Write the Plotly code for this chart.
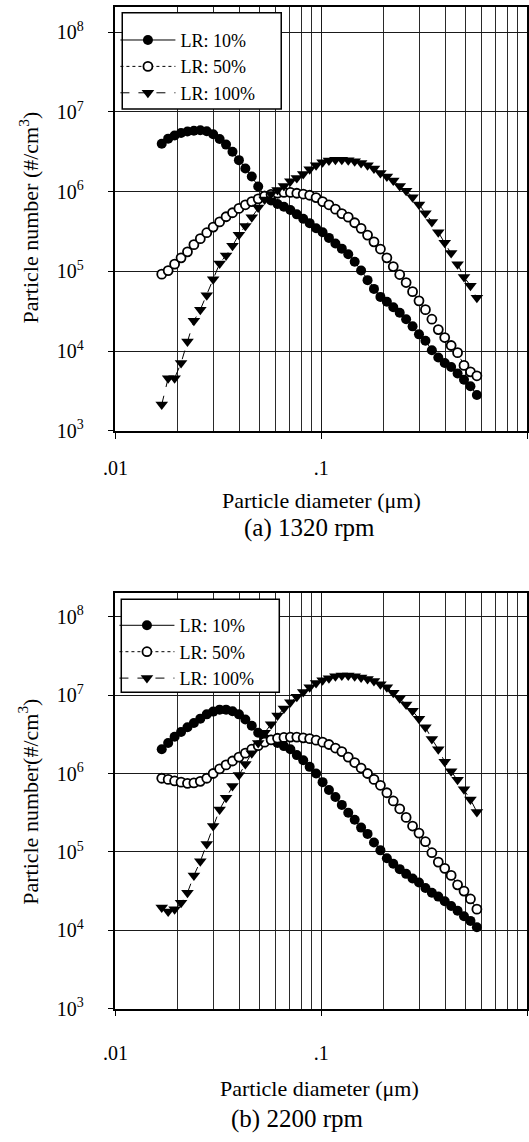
import plotly.graph_objects as go

# Particle diameters (um) of the measurement channels
diameter = [0.01679, 0.01804, 0.01939, 0.02084, 0.02239, 0.02406, 0.02585, 0.02778, 0.02985, 0.03208,
            0.03448, 0.03705, 0.03981, 0.04278, 0.04597, 0.04940, 0.05309, 0.05705, 0.06131, 0.06588,
            0.07080, 0.07608, 0.08175, 0.08785, 0.09441, 0.1015, 0.1090, 0.1172, 0.1259, 0.1353,
            0.1454, 0.1562, 0.1679, 0.1804, 0.1939, 0.2084, 0.2239, 0.2406, 0.2585, 0.2778,
            0.2985, 0.3208, 0.3448, 0.3705, 0.3981, 0.4278, 0.4597, 0.4940, 0.5309, 0.5705]

# (a) 1320 rpm, log10 of particle number (#/cm3)
a_lr10 = [6.60, 6.665, 6.705, 6.735, 6.755, 6.765, 6.77, 6.757, 6.72, 6.66,
          6.59, 6.50, 6.395, 6.29, 6.19, 6.065, 5.95, 5.89, 5.845, 5.81,
          5.77, 5.715, 5.66, 5.605, 5.54, 5.49, 5.42, 5.35, 5.285, 5.215,
          5.12, 5.01, 4.89, 4.78, 4.68, 4.62, 4.55, 4.48, 4.40, 4.31,
          4.21, 4.13, 4.01, 3.92, 3.85, 3.80, 3.72, 3.64, 3.56, 3.45]
a_lr50 = [4.965, 5.01, 5.09, 5.17, 5.245, 5.335, 5.41, 5.485, 5.555, 5.62,
          5.685, 5.735, 5.79, 5.835, 5.875, 5.91, 5.945, 5.965, 5.98, 5.99,
          5.99, 5.98, 5.97, 5.955, 5.925, 5.875, 5.835, 5.78, 5.725, 5.68,
          5.61, 5.54, 5.455, 5.37, 5.28, 5.17, 5.06, 4.96, 4.86, 4.745,
          4.63, 4.52, 4.40, 4.27, 4.17, 4.07, 3.98, 3.82, 3.74, 3.69]
a_lr100 = [3.33, 3.66, 3.66, 3.85, 4.12, 4.38, 4.52, 4.70, 4.90, 5.10,
           5.20, 5.32, 5.46, 5.57, 5.68, 5.80, 5.90, 5.97, 6.02, 6.07,
           6.13, 6.17, 6.22, 6.28, 6.33, 6.37, 6.39, 6.40, 6.40, 6.395,
           6.38, 6.36, 6.33, 6.29, 6.235, 6.19, 6.14, 6.07, 6.01, 5.93,
           5.84, 5.73, 5.62, 5.49, 5.36, 5.23, 5.09, 4.93, 4.82, 4.67]

# (b) 2200 rpm, log10 of particle number (#/cm3)
b_lr10 = [6.31, 6.39, 6.47, 6.53, 6.59, 6.645, 6.70, 6.755, 6.79, 6.815,
          6.815, 6.795, 6.755, 6.69, 6.61, 6.52, 6.45, 6.43, 6.39, 6.35,
          6.31, 6.235, 6.17, 6.085, 6.00, 5.89, 5.79, 5.70, 5.60, 5.50,
          5.41, 5.31, 5.23, 5.12, 5.02, 4.92, 4.85, 4.78, 4.72, 4.66,
          4.61, 4.54, 4.48, 4.43, 4.37, 4.31, 4.25, 4.18, 4.12, 4.04]
b_lr50 = [5.94, 5.925, 5.905, 5.89, 5.875, 5.88, 5.90, 5.94, 6.00, 6.06,
          6.11, 6.16, 6.21, 6.26, 6.31, 6.355, 6.40, 6.43, 6.45, 6.46,
          6.465, 6.465, 6.455, 6.445, 6.425, 6.40, 6.37, 6.325, 6.28, 6.21,
          6.14, 6.07, 6.00, 5.925, 5.85, 5.755, 5.65, 5.55, 5.44, 5.33,
          5.24, 5.13, 4.99, 4.87, 4.79, 4.70, 4.58, 4.50, 4.40, 4.27]
b_lr100 = [4.29, 4.24, 4.27, 4.35, 4.48, 4.70, 4.88, 5.10, 5.33, 5.54,
           5.69, 5.84, 5.98, 6.12, 6.26, 6.39, 6.52, 6.63, 6.74, 6.83,
           6.91, 6.98, 7.04, 7.10, 7.155, 7.19, 7.215, 7.24, 7.25, 7.25,
           7.24, 7.225, 7.205, 7.18, 7.14, 7.10, 7.03, 6.96, 6.88, 6.80,
           6.70, 6.59, 6.44, 6.31, 6.15, 6.03, 5.92, 5.80, 5.67, 5.51]

series_names = ["LR: 10%", "LR: 50%", "LR: 100%"]
x_tickvals = [0.01, 0.1, 1]
x_ticktext = [".01", ".1", "1"]
y_tickvals = [1e3, 1e4, 1e5, 1e6, 1e7, 1e8]
y_ticktext = ["10<sup>3</sup>", "10<sup>4</sup>", "10<sup>5</sup>", "10<sup>6</sup>", "10<sup>7</sup>", "10<sup>8</sup>"]
x_minor = [0.02, 0.03, 0.04, 0.05, 0.06, 0.07, 0.08, 0.09, 0.2, 0.3, 0.4, 0.5, 0.6, 0.7, 0.8, 0.9]

W, H = 529, 1142
FONT = "Liberation Serif"

def px_x(p):
    return p / W

def px_y(p):
    return 1 - p / H

styles = [
    dict(marker=dict(symbol="circle", size=10, color="black", line=dict(width=0)),
         line=dict(color="black", width=1, dash="solid")),
    dict(marker=dict(symbol="circle", size=9, color="white", line=dict(color="black", width=1.8)),
         line=dict(color="black", width=1, dash="dot")),
    dict(marker=dict(symbol="triangle-down", size=11, color="black", line=dict(width=0)),
         line=dict(color="black", width=1, dash="dash")),
]

fig = go.Figure()
panels = [("x", "y", "legend", [a_lr10, a_lr50, a_lr100]),
          ("x2", "y2", "legend2", [b_lr10, b_lr50, b_lr100])]
for xa, ya, lg, data in panels:
    for name, vals, st in zip(series_names, data, styles):
        fig.add_trace(go.Scatter(
            x=diameter, y=[10 ** v for v in vals], mode="lines+markers", name=name,
            xaxis=xa, yaxis=ya, legend=lg, marker=st["marker"], line=st["line"]))

def xaxis(dom, standoff):
    return dict(type="log", range=[-2, 0], domain=dom, tickmode="array",
                tickvals=x_tickvals, ticktext=x_ticktext, showgrid=True,
                gridcolor="#1a1a1a", gridwidth=1, zeroline=False,
                minor=dict(tickmode="array", tickvals=x_minor, showgrid=True,
                           gridcolor="#2a2a2a", gridwidth=1, ticks=""),
                showline=True, mirror=True, linecolor="black", linewidth=1.5,
                ticks="outside", ticklen=6, tickcolor="black", ticklabelstandoff=standoff,
                tickfont=dict(family=FONT, size=20, color="black"))

def yaxis(dom, top):
    return dict(type="log", range=[3, top], domain=dom, tickmode="array",
                tickvals=y_tickvals, ticktext=y_ticktext, showgrid=True,
                gridcolor="#1a1a1a", gridwidth=1, zeroline=False,
                showline=True, mirror=True, linecolor="black", linewidth=1.5,
                ticks="outside", ticklen=6, tickcolor="black", ticklabelstandoff=20,
                tickfont=dict(family=FONT, size=20, color="black"))

def label(text, x, y, size, angle=0):
    return dict(text=text, x=px_x(x), y=px_y(y), xref="paper", yref="paper",
                xanchor="center", yanchor="middle", textangle=angle,
                showarrow=False, font=dict(family=FONT, size=size, color="black"))

fig.update_layout(
    width=W, height=H, margin=dict(l=0, r=0, t=0, b=0),
    paper_bgcolor="white", plot_bgcolor="white",
    font=dict(family=FONT, color="black"),
    xaxis=dict(xaxis([px_x(105), px_x(527)], 12), anchor="y"),
    yaxis=dict(yaxis([px_y(435), px_y(7)], 8.317), anchor="x"),
    xaxis2=dict(xaxis([px_x(105), px_x(527)], 20), anchor="y2"),
    yaxis2=dict(yaxis([px_y(1018.5), px_y(599)], 8.30), anchor="x2"),
    legend=dict(x=px_x(105), y=px_y(22), xanchor="left", yanchor="top",
                bgcolor="rgba(0,0,0,0)", borderwidth=0,
                font=dict(family=FONT, size=18, color="black"), itemwidth=55),
    legend2=dict(x=px_x(104), y=px_y(613), xanchor="left", yanchor="top",
                 bgcolor="rgba(0,0,0,0)", borderwidth=0,
                 font=dict(family=FONT, size=18, color="black"), itemwidth=55),
    shapes=[
        dict(type="rect", xref="paper", yref="paper", x0=px_x(112), x1=px_x(275),
             y0=px_y(110), y1=px_y(13), fillcolor="white", line=dict(color="black", width=1.5), layer="above"),
        dict(type="rect", xref="paper", yref="paper", x0=px_x(111), x1=px_x(273),
             y0=px_y(699), y1=px_y(605), fillcolor="white", line=dict(color="black", width=1.5), layer="above"),
    ],
    annotations=[
        label("Particle number (#/cm<sup>3</sup>)", 16, 220, 22, -90),
        label("Particle diameter (\u03bcm)", 316, 505, 22),
        label("(a) 1320 rpm", 304, 533, 25),
        label("Particle number(#/cm<sup>3</sup>)", 16, 810, 22, -90),
        label("Particle diameter (\u03bcm)", 314, 1099, 22),
        label("(b) 2200 rpm", 291, 1130, 25),
    ],
)

fig.write_html("out.html")
